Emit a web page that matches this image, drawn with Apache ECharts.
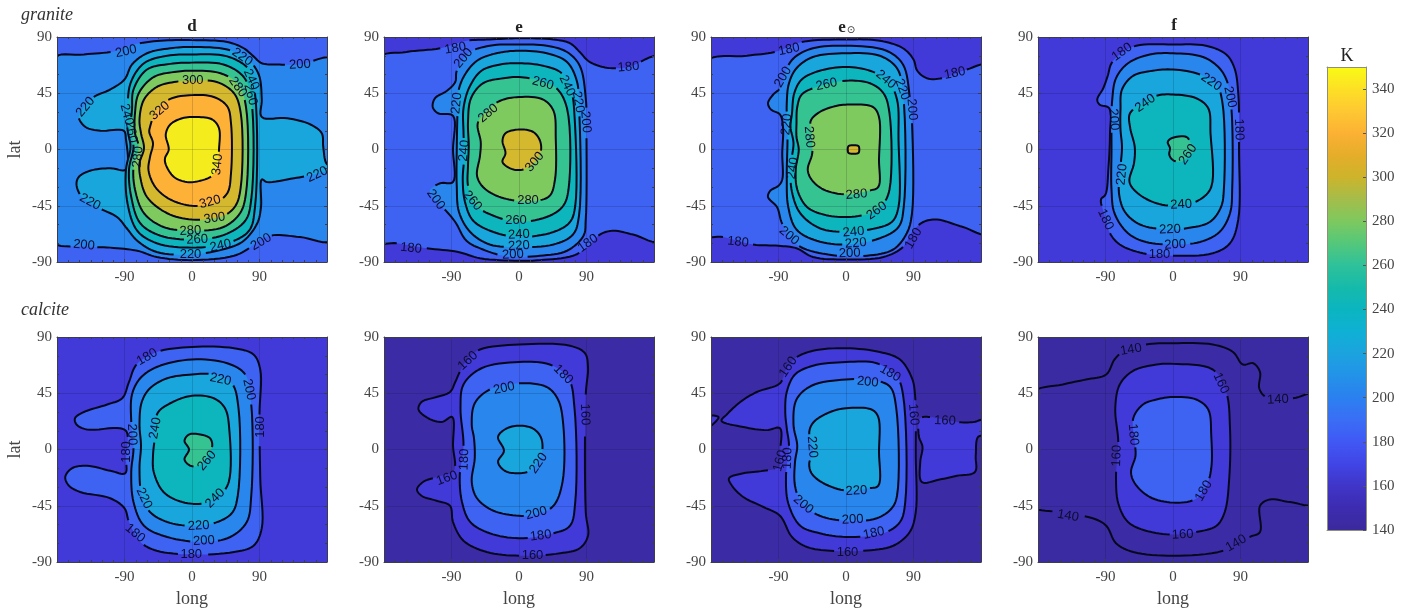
<!DOCTYPE html>
<html>
<head>
<meta charset="utf-8">
<style>html,body{margin:0;padding:0;background:#fff}#chart{width:1422px;height:610px}</style>
<script src="https://cdn.jsdelivr.net/npm/echarts@6/dist/echarts.min.js"></script>
</head>
<body>
<div id="chart"></div>
<script>
// ---------- values: [level, ring of [long, lat]] and [label, long, lat, angle] ----------
const bandColors = {120:'#3a2ba2',140:'#3b2ca6',160:'#4139d8',180:'#3e62f2',200:'#2886ec',220:'#18a6dc',240:'#0db6bd',260:'#35c392',280:'#7fca5e',300:'#d4b92e',320:'#fdb136',340:'#f4ec1c'};
const colorbarStops = [[140,'#3b2a9c'],[150,'#3d2cb0'],[160,'#4035c8'],[170,'#4145e5'],[180,'#4058f5'],[190,'#3a6ef5'],[200,'#2b80f0'],[210,'#2392e8'],[220,'#1ca3df'],[230,'#0fb0d5'],[240,'#0bb5c0'],[250,'#16baaa'],[260,'#2ec19a'],[270,'#53c87a'],[280,'#7dc95f'],[290,'#a4bd4a'],[300,'#cdb42b'],[310,'#e5ad2a'],[320,'#fcb134'],[330,'#fec832'],[340,'#fde025'],[350,'#f9fb15']];
const panelTitles = ['d','e','e','f'];
const rowNames = ['granite','calcite'];
const longTicks = [-180,-90,0,90,180];
const latTicks = [-90,-45,0,45,90];

const graniteD = [
 [200,[[-190,71.5],[-144,76],[-104,78.5],[-78,84],[-42,87],[0,87.5],[47,86],[69,81],[82,74.5],[93,69],[113,68],[144,68],[190,72],[190,-72],[144,-70],[109,-68.5],[91,-72],[76,-79],[56,-85],[0,-88.5],[-47,-86],[-73,-81],[-109,-78.5],[-144,-77.5],[-190,-72.5]]],
 [220,[[-151,26],[-144,34],[-131,42],[-109,48],[-90,56],[-80,68],[-60,77],[-29,81],[0,82],[47,80],[73,73],[89,60],[93,40],[93,26],[127,25],[158,20],[173,13],[175,2],[179,-11],[187,-15],[162,-20],[136,-23],[100,-26],[93,-24],[92,-46],[87,-59],[69,-73],[47,-79],[0,-84],[-47,-82],[-73,-73],[-87,-63],[-100,-54],[-127,-46],[-147,-38],[-154,-28],[-151,-22],[-136,-17],[-109,-15],[-88,-16],[-88,8],[-91,15],[-122,15],[-142,18]]],
 [240,[[-86,29],[-82,53],[-64,69],[-33,75],[0,76],[47,74.5],[76,64],[84,45],[84,-46],[76,-65],[47,-75],[0,-78.5],[-47,-75],[-73,-65],[-86,-43],[-88,-16],[-82,2],[-86,16]]],
 [260,[[-80,32],[-78,48],[-60,64],[-29,68.5],[0,69.5],[42,68],[69,58],[79,40],[79,-40],[71,-57],[42,-68.5],[0,-72],[-42,-69],[-69,-59],[-81,-38],[-84,-16],[-78,2],[-82,16]]],
 [280,[[-76,29],[-71,45],[-51,58],[-24,62],[0,63],[38,61],[62,52],[72,34],[72,-35],[64,-51],[42,-62],[0,-65],[-38,-62],[-64,-51],[-76,-32],[-78,-14],[-71,2],[-76,13]]],
 [300,[[-70,24],[-64,40],[-47,50],[-24,54],[0,55],[33,54],[56,45],[65,29],[65,-30],[58,-45],[42,-53],[0,-56],[-33,-51],[-60,-38],[-69,-22],[-70,-11],[-64,1],[-68,13]]],
 [320,[[-56,18],[-47,32],[-29,40.5],[0,43.5],[29,42],[47,34.5],[52,21],[52,-19],[47,-35],[29,-43],[0,-45],[-29,-40],[-49,-30],[-58,-16.5],[-56,-6],[-52,5],[-57,14]]],
 [340,[[-35,12],[-29,20],[-13,25],[7,26],[27,24],[36,17],[36,0],[34,-14],[27,-21],[11,-25],[-7,-26],[-24,-22],[-35,-12],[-36,-7],[-31,0]]]
];
const graniteDLabels = [
 ['200',-88,78.5,12],['200',144,68,3],['200',-144,-76.5,-5],['200',92,-74,30],
 ['220',67,74,-35],['220',-142,34,50],['220',-136,-42,-28],['220',167,-20,25],['220',-2,-84,0],
 ['240',79,56,-65],['240',-87,28,-75],['240',38,-77,12],
 ['260',78,44,-75],['260',-81,14,-80],['260',7,-72,3],
 ['280',61,50,-55],['280',-72,-6,85],['280',-2,-65,3],
 ['300',1,55,0],['300',30,-55,8],['320',-43,31,40],['320',24,-42,15],['340',34,-12,85]
];
const graniteE = [
 [180,[[-190,72],[-150,78],[-105,81],[-70,87],[-39,88],[0,89],[46,88],[68,85],[81,78],[92,71],[106,67],[124,65],[146,66],[190,74],[190,-73],[152,-68],[126,-65],[108,-68],[92,-78],[72,-85],[28,-88.5],[0,-89],[-52,-87],[-81,-82],[-123,-79],[-163,-75],[-190,-73]]],
 [200,[[-83,63],[-68,77],[-39,83],[0,84],[37,83],[64,78],[81,67],[89,41],[90,9],[89,-56],[86,-69],[64,-81],[28,-85],[-16,-85.5],[-48,-80],[-70,-73],[-85,-58],[-99,-48],[-112,-41],[-119,-33],[-105,-27],[-88,-26],[-88,0],[-88,27],[-108,29],[-115,34],[-112,41],[-96,47],[-85,54]]],
 [220,[[-81,46],[-73,59],[-56,71],[-30,77],[0,79],[37,77],[64,70],[77,55],[80,35],[80,-53],[72,-68],[46,-76],[0,-78],[-39,-76],[-65,-66],[-80,-50],[-83,-29],[-83,0],[-82,30]]],
 [240,[[-74,33],[-66,50],[-50,63],[-25,68],[0,69],[32,67],[57,61],[70,46],[74,27],[75,-45],[68,-58],[46,-66],[0,-70],[-34,-66],[-61,-57],[-72,-42],[-75,-24],[-73,-5],[-74,14]]],
 [260,[[-68,22],[-64,41],[-48,53],[-21,57],[0,58],[28,55],[50,49],[64,33],[66,-32],[59,-45],[41,-53],[0,-58],[-34,-53],[-59,-44],[-68,-29],[-68,-13],[-67,3]]],
 [280,[[-55,21],[-43,31],[-25,39],[0,42],[32,40],[46,31],[49,9],[48,-24],[41,-37],[24,-41],[-3,-41],[-30,-37],[-48,-30],[-56,-21],[-52,-5],[-51,6]]],
 [300,[[-22,7],[-18,13],[0,16],[19,14],[28,7],[29,-2],[21,-10],[6,-16],[-10,-15.5],[-22,-10],[-18,-3]]]
];
const graniteELabels = [
 ['180',-85,81,10],['180',146,66,5],['180',-144,-79,-5],['180',92,-75,35],
 ['200',-74,73,50],['200',89,22,-85],['200',-111,-40,-55],['200',-8,-84,3],
 ['220',-83,37,85],['220',79,38,-80],['220',0,-77,3],
 ['240',-73,-1,85],['240',64,51,-65],['240',0,-68,3],
 ['260',32,53,-15],['260',-62,-41,-50],['260',-4,-57,0],
 ['280',-41,29,40],['280',12,-41,0],['300',21,-10,50]
];
const graniteESun = [
 [180,[[-190,69],[-132,75],[-95,78],[-59,86],[0,88],[45,87],[76,81],[90,72],[95,63],[108,57],[128,57],[161,64],[190,67],[190,-67],[156,-62],[121,-56],[103,-58],[88,-66],[76,-78],[50,-86],[0,-88],[-44,-86],[-66,-79],[-90,-77],[-124,-76],[-164,-70],[-190,-68]]],
 [200,[[-88,49],[-97,44],[-104,37],[-100,32],[-88,28],[-84,18],[-85,-3],[-85,-24],[-90,-29],[-101,-33],[-104,-38],[-92,-46],[-86,-58],[-75,-71],[-57,-79],[-12,-85],[28,-85],[63,-80],[81,-67],[88,-51],[88,21],[85,42],[76,68],[54,79],[0,83],[-44,81],[-68,74],[-79,65]]],
 [220,[[-79,37],[-76,53],[-66,65],[-44,74],[0,77],[45,75],[68,65],[76,45],[77,-46],[70,-62],[45,-71],[0,-76],[-39,-73],[-66,-64],[-77,-46],[-79,-22],[-78,8]]],
 [240,[[-72,29],[-69,45],[-59,56],[-35,63],[0,66],[32,63],[56,55],[68,40],[70,8],[70,-46],[61,-58],[32,-64],[0,-66],[-35,-63],[-61,-51],[-72,-34],[-74,-14],[-70,5],[-74,18]]],
 [260,[[-66,21],[-65,34],[-59,44],[-39,50],[0,55],[32,53],[50,45],[58,29],[58,-32],[50,-43],[32,-51],[0,-54],[-30,-52],[-52,-46],[-65,-32],[-67,-16],[-63,0],[-66,10]]],
 [280,[[-47,23],[-35,30],[-12,35],[10,36],[36,34],[44,26],[44,-8],[43,-30],[30,-33],[1,-36],[-30,-32],[-46,-24],[-51,-16],[-45,-3],[-46,13]]],
 [300,[[3,2.5],[6,3.3],[14,3.3],[17,2.5],[17,-2.5],[14,-3.3],[6,-3.3],[3,-2.5]]]
];
const graniteESunLabels = [
 ['180',-76,80,12],['180',145,61,12],['180',-144,-74,-5],['180',90,-71,60],
 ['200',-84,58,60],['200',88,32,-85],['200',-76,-69,-40],['200',5,-83,2],
 ['220',-79,20,85],['220',75,48,-70],['220',13,-75,5],
 ['240',-71,-15,80],['240',53,56,-40],['240',10,-66,5],
 ['260',-26,52,12],['260',41,-49,35],['280',-49,10,-85],['280',14,-36,5]
];
const graniteF = [
 [180,[[-87,59],[-82,69],[-69,77],[-49,83],[0,84],[44,83],[71,76],[82,65],[87,45],[88,0],[87,-56],[76,-75],[53,-83],[0,-85],[-40,-83],[-71,-76],[-84,-67],[-92,-51],[-96,-40],[-90,-36],[-86,-14],[-84,13],[-85,33],[-98,36],[-101,40],[-93,49]]],
 [200,[[-81,40],[-76,57],[-60,69],[-31,76],[0,77],[40,74],[62,65],[73,53],[78,32],[79,-30],[76,-51],[62,-66],[36,-74],[0,-76],[-36,-74],[-60,-67],[-78,-51],[-82,-32],[-82,0],[-82,18]]],
 [220,[[-70,32],[-68,48],[-53,59],[-27,63],[0,64],[36,60],[58,52],[66,37],[68,-30],[64,-46],[49,-58],[18,-63],[-9,-64],[-44,-60],[-64,-50],[-72,-35],[-70,-14],[-68,2],[-70,16]]],
 [240,[[-58,28],[-49,34],[-22,43],[0,44],[31,41],[47,33],[50,13],[51,-30],[36,-40],[9,-45],[-22,-43],[-47,-35],[-58,-26],[-52,-11],[-51,2],[-57,17]]],
 [260,[[-7,6],[-2,9],[18,10],[24,5],[30,1],[20,-6],[9,-10],[-1,-8],[-5,-4],[-4,1]]]
];
const graniteFLabels = [
 ['180',-68,78,35],['180',88,16,-88],['180',-90,-56,-65],['180',-18,-84,0],
 ['200',-79,24,-85],['200',76,42,-78],['200',3,-76,3],
 ['220',-68,-20,85],['220',51,54,-35],['220',-4,-64,2],
 ['240',-37,37,35],['240',11,-44,3],['260',20,-4,55]
];
const calciteD = [
 [180,[[-74,68],[-47,78],[0,82],[56,81],[82,76],[91,64],[90,28],[91,-23],[93,-63],[82,-77],[56,-82],[0,-84],[-47,-81],[-69,-74],[-84,-58],[-90,-47],[-109,-39],[-149,-34],[-164,-29],[-169,-22],[-160,-15],[-140,-13],[-109,-17],[-89,-19],[-88,-7],[-87,14],[-96,17],[-140,16],[-154,20],[-156,25],[-144,30],[-113,36],[-93,41],[-84,54]]],
 [200,[[-81,22],[-80,44],[-69,57],[-47,66],[0,72],[47,69],[71,60],[79,36],[79,-37],[73,-58],[51,-70],[16,-74],[-33,-70],[-64,-61],[-78,-42],[-81,-18],[-78,1]]],
 [220,[[-70,20],[-67,38],[-56,49],[-33,57],[0,60],[29,60],[53,53],[62,33],[61,-37],[53,-51],[29,-59],[-2,-61],[-33,-58],[-56,-50],[-67,-37],[-70,-15],[-68,3]]],
 [240,[[-46,29],[-29,37],[0,43],[29,41],[44,33],[50,14],[49,-26],[38,-36],[16,-43],[-13,-42],[-38,-34],[-51,-18],[-52,-5],[-49,12]]],
 [260,[[-10,7],[-4,12],[11,12],[24,9],[27,3],[20,-6],[9,-13],[-2,-13],[-10,-8],[-4,0]]]
];
const calciteDLabels = [
 ['180',-60,74,30],['180',91,18,90],['180',-88,-2,90],['180',-76,-67,-40],['180',-1,-84,0],
 ['200',-80,12,-88],['200',76,48,-78],['200',16,-73,3],
 ['220',38,56,-12],['220',-64,-39,-65],['220',9,-61,3],
 ['240',-49,17,80],['240',31,-39,45],['260',20,-9,50]
];
const calciteE = [
 [160,[[-79,62],[-68,73],[-52,80],[0,84],[68,83],[88,77],[92,66],[89,44],[89,-50],[92,-69],[81,-79],[55,-83],[0,-85],[-43,-82],[-74,-73],[-88,-58],[-92,-45],[-110,-41],[-130,-37],[-136,-32],[-128,-26],[-110,-22],[-87,-17],[-88,3],[-89,26],[-103,22],[-121,25],[-134,32],[-130,38],[-110,42],[-92,46],[-85,54]]],
 [180,[[-78,33],[-74,52],[-50,65],[0,70],[41,68],[66,57],[74,33],[75,-42],[68,-61],[46,-67],[0,-71],[-39,-67],[-65,-58],[-76,-42],[-79,-21],[-74,3]]],
 [200,[[-63,20],[-59,37],[-39,48],[0,53],[37,50],[52,40],[59,20],[58,-26],[46,-45],[24,-52],[0,-53],[-34,-49],[-56,-39],[-63,-26],[-59,-7],[-60,9]]],
 [220,[[-28,10],[-19,16],[-3,19],[18,17],[29,10],[31,-1],[24,-11],[15,-17],[-3,-19],[-19,-17],[-28,-10],[-20,-1]]]
];
const calciteELabels = [
 ['160',-68,71,42],['160',88,28,-88],['160',-96,-23,20],['160',18,-85,0],
 ['180',59,60,-45],['180',-73,-8,88],['180',29,-69,7],
 ['200',-20,49,12],['200',23,-51,15],['220',26,-11,55]
];
const calciteESun = [
 [160,[[-88,53],[-80,64],[-68,73],[-44,79],[0,81],[45,78],[72,72],[88,57],[92,44],[93,-5],[93,-50],[85,-66],[63,-77],[23,-81],[-21,-81],[-52,-78],[-72,-70],[-88,-53],[-110,-46],[-137,-38],[-152,-29],[-156,-23],[-137,-19],[-110,-17],[-89,-14],[-88,-2],[-88,17],[-106,15.5],[-137,18],[-166,23],[-159,28],[-141,38],[-119,46]]],
 [160,[[99,25],[112,26],[148,22],[170,22],[186,24],[186,12],[176,10],[173,-5],[172,-18],[148,-21],[125,-24],[101,-26],[99,-10],[102,2],[97,11]]],
 [160,[[-190,26],[-170,26],[-180,19],[-190,17]]],
 [180,[[-81,30],[-79,46],[-68,60],[-44,67],[0,70],[41,69],[68,58],[76,44],[79,-42],[72,-58],[50,-67],[0,-70],[-35,-67],[-61,-61],[-77,-43],[-80,-21],[-76,3],[-79,17]]],
 [200,[[-70,20],[-66,40],[-46,51],[0,56],[41,55],[59,50],[67,33],[68,-37],[61,-47],[41,-55],[0,-57],[-35,-53],[-59,-43],[-68,-29],[-68,-10],[-65,3]]],
 [220,[[-49,14],[-43,22],[-21,30],[0,33],[34,32],[43,26],[44,-2],[43,-29],[30,-31],[1,-33],[-30,-27],[-46,-19],[-49,-11],[-44,-2]]]
];
const calciteESunLabels = [
 ['160',-77,66,55],['160',90,28,-85],['160',132,23,-2],['160',-88,-9,75],['160',2,-82,0],
 ['180',59,61,-30],['180',-78,-7,88],['180',37,-67,12],
 ['200',29,54,-5],['200',-57,-44,-40],['200',9,-56,3],
 ['220',-45,2,-85],['220',14,-33,3]
];
const calciteF = [
 [140,[[-190,44],[-147,52],[-116,56],[-89,60],[-78,72],[-67,78],[-36,84],[0,85],[53,84],[80,78],[93,68],[107,69],[116,62],[115,49],[124,42],[160,41],[190,44],[190,-43],[156,-42],[129,-40],[116,-45],[116,-66],[102,-70],[67,-81],[0,-85],[-53,-82],[-76,-75],[-89,-61],[-107,-55],[-156,-50],[-190,-44]]],
 [160,[[-77,33],[-71,52],[-53,63],[-22,68],[0,68.5],[53,64],[71,46],[76,17],[75,-23],[69,-50],[58,-61],[31,-66],[0,-68],[-36,-65],[-60,-58],[-73,-43],[-76,-21],[-73,6]]],
 [180,[[-53,25],[-40,36],[-22,40],[0,42],[31,40],[47,32],[51,11],[51,-15],[44,-30],[29,-40],[0,-42.5],[-31,-38],[-51,-27],[-56,-18],[-50,-5],[-51,6]]]
];
const calciteFLabels = [
 ['140',-56,80,10],['140',140,40,3],['140',-140,-53,-10],['140',84,-75,30],
 ['160',64,53,-65],['160',-75,-5,88],['160',13,-68,3],
 ['180',-53,12,-85],['180',41,-33,60]
];

// ---------- layout ----------
const panelLefts = [57,384,711,1038], rowTops = [37,337], panelW = 270, panelH = 225;
const panels = [
 {c:graniteD,l:graniteDLabels,base:180,col:0,row:0},{c:graniteE,l:graniteELabels,base:160,col:1,row:0},
 {c:graniteESun,l:graniteESunLabels,base:160,col:2,row:0},{c:graniteF,l:graniteFLabels,base:160,col:3,row:0},
 {c:calciteD,l:calciteDLabels,base:160,col:0,row:1},{c:calciteE,l:calciteELabels,base:140,col:1,row:1},
 {c:calciteESun,l:calciteESunLabels,base:140,col:2,row:1},{c:calciteF,l:calciteFLabels,base:120,col:3,row:1}
];
const SERIF = '"Liberation Serif","DejaVu Serif",serif', SANS = '"Liberation Sans",Arial,sans-serif';
const INK = '#08081c', TICKTXT = '#444', FRAME = '#3c3c4c';

// closed centripetal Catmull-Rom through pixel points: curve rendering only
function smoothRing(p){
  const n=p.length, out=[], sub=8;
  const d=(a,b)=>Math.pow(Math.hypot(a[0]-b[0],a[1]-b[1]),0.5)||1e-3;
  for(let i=0;i<n;i++){
    const P0=p[(i-1+n)%n],P1=p[i],P2=p[(i+1)%n],P3=p[(i+2)%n];
    const t0=0,t1=t0+d(P0,P1),t2=t1+d(P1,P2),t3=t2+d(P2,P3);
    for(let k=0;k<sub;k++){
      const t=t1+(t2-t1)*k/sub, q=[];
      for(let a=0;a<2;a++){
        const A1=(t1-t)/(t1-t0)*P0[a]+(t-t0)/(t1-t0)*P1[a];
        const A2=(t2-t)/(t2-t1)*P1[a]+(t-t1)/(t2-t1)*P2[a];
        const A3=(t3-t)/(t3-t2)*P2[a]+(t-t2)/(t3-t2)*P3[a];
        const B1=(t2-t)/(t2-t0)*A1+(t-t0)/(t2-t0)*A2;
        const B2=(t3-t)/(t3-t1)*A2+(t-t1)/(t3-t1)*A3;
        q[a]=(t2-t)/(t2-t1)*B1+(t-t1)/(t2-t1)*B2;
      }
      out.push(q);
    }
  }
  return out;
}
// break a closed contour where its own labels sit
function splitAtLabels(pts,boxes){
  const hit=q=>boxes.some(b=>{
    const dx=q[0]-b.x,dy=q[1]-b.y,c=Math.cos(b.r),s=Math.sin(b.r);
    return Math.abs(dx*c-dy*s)<12.5 && Math.abs(dx*s+dy*c)<7.5;
  });
  const n=pts.length, flags=pts.map(hit);
  let start=flags.indexOf(true);
  if(start<0) return [pts.concat([pts[0]])];
  const segs=[]; let cur=[];
  for(let i=0;i<=n;i++){
    const j=(start+i)%n;
    if(flags[j]){ if(cur.length>1) segs.push(cur); cur=[]; }
    else cur.push(pts[j]);
  }
  if(cur.length>1) segs.push(cur);
  return segs;
}
function axisStyle(show){ return {show:show,onZero:false,lineStyle:{color:FRAME,width:1}}; }

const grid=[],xAxis=[],yAxis=[],series=[],title=[];
panels.forEach((P,idx)=>{
  grid.push({left:panelLefts[P.col],top:rowTops[P.row],width:panelW,height:panelH,show:true,backgroundColor:bandColors[P.base],borderWidth:0,containLabel:false});
  const ax0=xAxis.length, ay0=yAxis.length;
  const common={gridIndex:idx,type:'value',z:3};
  const xBase=Object.assign({},common,{min:longTicks[0],max:longTicks[longTicks.length-1],interval:90,axisLine:axisStyle(true),
    axisTick:{inside:true,length:3,lineStyle:{color:FRAME}},minorTick:{show:true,splitNumber:6,length:2,lineStyle:{color:FRAME}},minorSplitLine:{show:false}});
  const yBase=Object.assign({},common,{min:latTicks[0],max:latTicks[latTicks.length-1],interval:45,axisLine:axisStyle(true),
    axisTick:{inside:true,length:3,lineStyle:{color:FRAME}},minorTick:{show:true,splitNumber:3,length:2,lineStyle:{color:FRAME}},minorSplitLine:{show:false}});
  xAxis.push(Object.assign({},xBase,{position:'bottom',
    splitLine:{show:true,lineStyle:{color:'rgba(10,10,40,0.16)',width:1}},
    axisLabel:{show:true,margin:8,fontFamily:SERIF,fontSize:15,color:TICKTXT,formatter:v=>Math.abs(v)===180?'':String(v)},
    name:P.row===1?'long':'',nameLocation:'middle',nameGap:28,nameTextStyle:{fontFamily:SERIF,fontSize:18,color:TICKTXT}}));
  xAxis.push(Object.assign({},xBase,{position:'top',splitLine:{show:false},axisLabel:{show:false}}));
  yAxis.push(Object.assign({},yBase,{position:'left',
    splitLine:{show:true,lineStyle:{color:'rgba(10,10,40,0.16)',width:1}},
    axisLabel:{show:true,margin:5,fontFamily:SERIF,fontSize:15,color:TICKTXT},
    name:P.col===0?'lat':'',nameLocation:'middle',nameGap:33,nameRotate:90,nameTextStyle:{fontFamily:SERIF,fontSize:18,color:TICKTXT}}));
  yAxis.push(Object.assign({},yBase,{position:'right',splitLine:{show:false},axisLabel:{show:false}}));

  series.push({type:'custom',coordinateSystem:'cartesian2d',xAxisIndex:ax0,yAxisIndex:ay0,clip:true,silent:true,animation:false,z:2,
    data:P.c.map(c=>c[1][0]),
    renderItem:(params,api)=>{
      const c=P.c[params.dataIndex], level=c[0];
      const pts=smoothRing(c[1].map(q=>api.coord(q)));
      const boxes=P.l.filter(l=>+l[0]===level).map(l=>{const o=api.coord([l[1],l[2]]);return {x:o[0],y:o[1],r:l[3]*Math.PI/180};});
      const children=[{type:'polygon',shape:{points:pts},style:{fill:bandColors[level],stroke:null}}];
      splitAtLabels(pts,boxes).forEach(seg=>children.push({type:'polyline',shape:{points:seg},style:{fill:null,stroke:INK,lineWidth:2,lineJoin:'round',lineCap:'butt'}}));
      return {type:'group',children};
    }});
  series.push({type:'custom',coordinateSystem:'cartesian2d',xAxisIndex:ax0,yAxisIndex:ay0,clip:false,silent:true,animation:false,z:4,
    data:P.l.map(l=>[l[1],l[2]]),
    renderItem:(params,api)=>{
      const l=P.l[params.dataIndex], o=api.coord([l[1],l[2]]);
      return {type:'text',x:o[0],y:o[1],rotation:l[3]*Math.PI/180,
        style:{text:l[0],fontFamily:SANS,fontSize:13,fill:'#0c0c30',align:'center',verticalAlign:'middle'}};
    }});
});

// colorbar
const cbGrid=grid.length;
grid.push({left:1327,top:67,width:39,height:463});
const cbx=xAxis.length,cby=yAxis.length;
const cbAxisLine={show:true,onZero:false,lineStyle:{color:'#8f8f78',width:1}};
xAxis.push({gridIndex:cbGrid,type:'value',min:0,max:1,position:'bottom',axisLine:cbAxisLine,axisTick:{show:false},axisLabel:{show:false},splitLine:{show:false},z:3});
xAxis.push({gridIndex:cbGrid,type:'value',min:0,max:1,position:'top',axisLine:cbAxisLine,axisTick:{show:false},axisLabel:{show:false},splitLine:{show:false},z:3});
yAxis.push({gridIndex:cbGrid,type:'value',min:140,max:350,interval:20,position:'right',axisLine:cbAxisLine,
  axisTick:{inside:true,length:3,lineStyle:{color:'#555'}},splitLine:{show:false},
  axisLabel:{margin:6,fontFamily:SERIF,fontSize:15,color:TICKTXT,showMaxLabel:false},z:3});
yAxis.push({gridIndex:cbGrid,type:'value',min:140,max:350,position:'left',axisLine:cbAxisLine,axisTick:{show:false},axisLabel:{show:false},splitLine:{show:false},z:3});
series.push({type:'custom',coordinateSystem:'cartesian2d',xAxisIndex:cbx,yAxisIndex:cby,silent:true,animation:false,z:2,
  data:[[0,140]],
  renderItem:(params,api)=>{
    const a=api.coord([0,350]),b=api.coord([1,140]);
    return {type:'rect',shape:{x:a[0],y:a[1],width:b[0]-a[0],height:b[1]-a[1]},
      style:{fill:{type:'linear',x:0,y:0,x2:0,y2:1,colorStops:colorbarStops.map(s=>({offset:(350-s[0])/210,color:s[1]})).reverse()}}};
  }});

// titles
const boldTitle=(text,left,top)=>({text,left,top,textAlign:'center',padding:0,textStyle:{fontFamily:SERIF,fontWeight:'bold',fontSize:17,color:'#222'}});
title.push(boldTitle(panelTitles[0],192,18),boldTitle(panelTitles[1],519,19),boldTitle(panelTitles[2],842,19),boldTitle(panelTitles[3],1174,17));
title.push({text:'\u2299',left:851,top:25,textAlign:'center',padding:0,textStyle:{fontFamily:'"DejaVu Sans"',fontWeight:'normal',fontSize:10,color:'#333'}});
title.push({text:rowNames[0],left:21,top:6,padding:0,textStyle:{fontFamily:SERIF,fontStyle:'italic',fontWeight:'normal',fontSize:18,color:'#333'}});
title.push({text:rowNames[1],left:21,top:301,padding:0,textStyle:{fontFamily:SERIF,fontStyle:'italic',fontWeight:'normal',fontSize:18,color:'#333'}});
title.push({text:'K',left:1347,top:47,textAlign:'center',padding:0,textStyle:{fontFamily:SERIF,fontWeight:'normal',fontSize:18,color:'#222'}});

const chart=echarts.init(document.getElementById('chart'),null,{renderer:'canvas'});
chart.setOption({backgroundColor:'#fff',animation:false,title,grid,xAxis,yAxis,series});
</script>
</body>
</html>
